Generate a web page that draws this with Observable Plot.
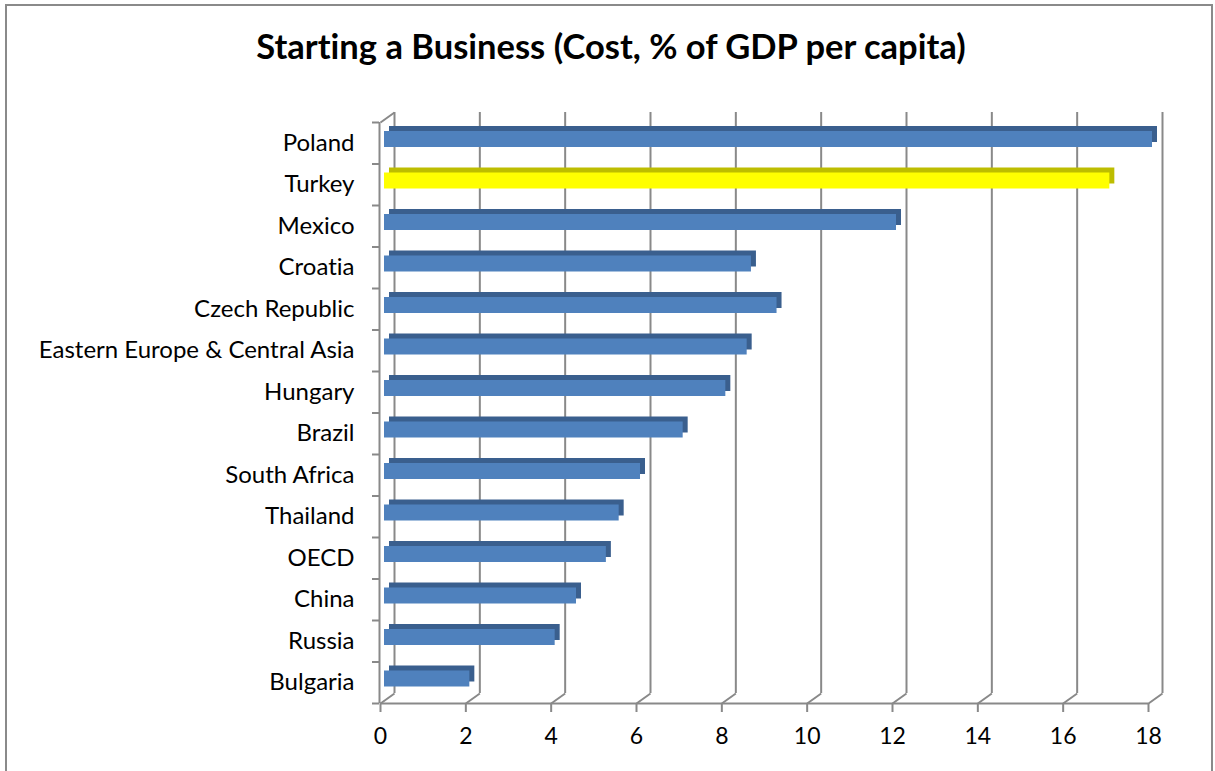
<!DOCTYPE html>
<html>
<head>
<meta charset="utf-8">
<script src="https://cdn.jsdelivr.net/npm/d3@7"></script>
<script src="https://cdn.jsdelivr.net/npm/@observablehq/plot@0.6"></script>
<style>
  html, body { margin: 0; padding: 0; background: #fff; }
  #frame { position: relative; width: 1215px; height: 771px; overflow: hidden; background: #fff;
           font-variant-ligatures: none; font-feature-settings: "liga" 0, "clig" 0; }
  #frame svg text { font-variant-ligatures: none; font-feature-settings: "liga" 0, "clig" 0; }
  #border { position: absolute; left: 5px; top: 4px; width: 1208px; height: 820px; box-sizing: border-box; border: 2px solid #8a8a8a; }
  #title { position: absolute; left: 0; top: 26px; width: 1215px; padding-left: 7px; box-sizing: border-box; text-align: center;
           font-family: Lato, "Open Sans", sans-serif; font-weight: bold; font-size: 34.5px; line-height: 40px; color: #000; }
  #chart { position: absolute; left: 0; top: 95px; }
</style>
</head>
<body>
<div id="frame">
  <div id="border"></div>
  <div id="title">Starting a Business (Cost, % of GDP per capita)</div>
  <div id="chart"></div>
</div>
<script>
// ---- data ----
const categories = ["Poland", "Turkey", "Mexico", "Croatia", "Czech Republic", "Eastern Europe & Central Asia",
  "Hungary", "Brazil", "South Africa", "Thailand", "OECD", "China", "Russia", "Bulgaria"];
const values = [18.0, 17.0, 12.0, 8.6, 9.2, 8.5, 8.0, 7.0, 6.0, 5.5, 5.2, 4.5, 4.0, 2.0];
const highlighted = ["Turkey"];
const xTicks = [0, 2, 4, 6, 8, 10, 12, 14, 16, 18];

// ---- layout ----
const W = 1215, H = 676;
const mL = 380, mR = 67, mT = 27, mB = 68;
const xMax = 18, nRows = categories.length;
const pxPerX = (W - mL - mR) / xMax;
const pxPerRow = (H - mT - mB) / nRows;
const depthX = 14 / pxPerX;   // 3D depth offset in data units
const depthY = 10 / pxPerRow;

const GRID = "#898989";
const rows = categories.map((c, i) => ({
  name: c, i, value: values[i],
  front: highlighted.includes(c) ? "#FFFF00" : "#4F81BD",
  shade: highlighted.includes(c) ? "#BDBD00" : "#3A5F8E"
}));

const chart = Plot.plot({
  width: W, height: H,
  marginLeft: mL, marginRight: mR, marginTop: mT, marginBottom: mB,
  x: {domain: [0, xMax]},
  y: {domain: [nRows, 0]},
  color: {type: "identity"},
  style: {fontFamily: "Lato, 'Open Sans', sans-serif", fontSize: "24px", color: "#000", background: "transparent"},
  marks: [
    // back-wall gridlines
    Plot.ruleX(xTicks, {x: d => d, stroke: GRID, strokeWidth: 2, dx: 14, dy: -10}),
    // floor diagonals
    Plot.link(xTicks, {x1: d => d, x2: d => d + depthX, y1: nRows, y2: nRows - depthY, stroke: GRID, strokeWidth: 2}),
    // left wall top diagonal
    Plot.link([0], {x1: 0, x2: depthX, y1: 0, y2: -depthY, stroke: GRID, strokeWidth: 2}),
    // axis lines
    Plot.ruleX([0], {x: d => d, stroke: GRID, strokeWidth: 2, dx: -1}),
    Plot.ruleY([nRows], {y: d => d, x1: 0, x2: xMax, stroke: GRID, strokeWidth: 2}),
    // bar depth (top & side faces)
    Plot.rect(rows, {x1: 0, x2: "value", y1: "i", y2: d => d.i + 1, insetTop: 9, insetBottom: 16.5,
      dx: 9, dy: -5, fill: "shade"}),
    // bar front faces
    Plot.rect(rows, {x1: 0, x2: "value", y1: "i", y2: d => d.i + 1, insetTop: 9, insetBottom: 16.5,
      dx: 4, fill: "front"}),
    // category axis ticks (between categories)
    Plot.axisY(d3.range(nRows + 1), {tickSize: 7, tickFormat: () => "", stroke: GRID, strokeWidth: 2, label: null, dx: -1}),
    // category labels
    Plot.axisY(categories.map((c, i) => i + 0.5), {tickSize: 0, tickPadding: 26, label: null,
      tickFormat: d => categories[Math.floor(d)], fill: "#000", fontSize: 24}),
    // value axis
    Plot.axisX(xTicks, {tickSize: 9, tickPadding: 15, label: null, stroke: GRID, strokeWidth: 2,
      fill: "#000", fontSize: 23, tickFormat: d => String(d)})
  ]
});
document.getElementById("chart").appendChild(chart);
</script>
</body>
</html>
